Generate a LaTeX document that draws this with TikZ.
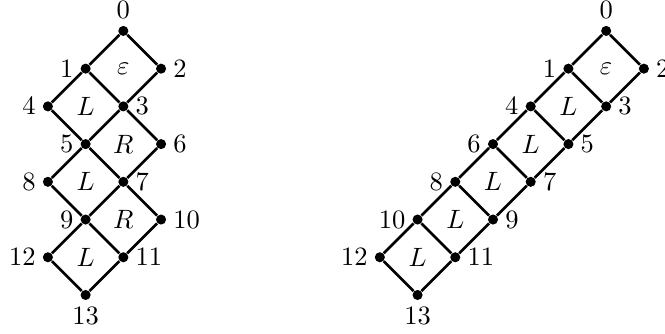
\documentclass[tikz,border=0pt]{standalone}
\usetikzlibrary{positioning}
\tikzset{
  vtx/.style={circle, fill=black, inner sep=0pt, minimum size=3.8pt},
  edge/.style={line width=1pt},
}
\begin{document}
\begin{tikzpicture}[x=0.5cm, y=0.5cm, label distance=-1pt]
		\useasboundingbox (-3.27, -8.01) rectangle (14.36, 0.82);
		
		%%%%% LEFT %%%%%
		\foreach \n/\x/\y/\p in {0/0/0/above, 1/-1/-1/left, 2/1/-1/right, 3/0/-2/right,
				4/-2/-2/left, 5/-1/-3/left, 6/1/-3/right, 7/0/-4/right, 8/-2/-4/left,
				9/-1/-5/left, 10/1/-5/right, 11/0/-6/right, 12/-2/-6/left, 13/-1/-7/below}
			\node[vtx, label=\p:$\n$] (a\n) at (\x, \y) {};
		\foreach \u/\v in {0/1, 0/2, 1/3, 2/3, 1/4, 4/5, 3/5, 3/6, 5/7, 6/7, 5/8, 8/9,
				7/9, 7/10, 9/11, 10/11, 9/12, 12/13, 11/13}
			\draw[edge] (a\u) -- (a\v);
		\node (aface0) at (0, -1) {$\varepsilon$};
		\node (aface1) at (-1, -2) {$L$};
		\node (aface2) at (0, -3) {$R$};
		\node (aface3) at (-1, -4) {$L$};
		\node (aface4) at (0, -5) {$R$};
		\node (aface5) at (-1, -6) {$L$};
		
		%%%%% RIGHT %%%%%
		\begin{scope}[xshift=6.4cm]
			\foreach \n/\x/\y/\p in {0/0/0/above, 1/-1/-1/left, 2/1/-1/right, 3/0/-2/right,
					4/-2/-2/left, 5/-1/-3/right, 6/-3/-3/left, 7/-2/-4/right, 8/-4/-4/left,
					9/-3/-5/right, 10/-5/-5/left, 11/-4/-6/right, 12/-6/-6/left, 13/-5/-7/below}
				\node[vtx, label=\p:$\n$] (b\n) at (\x, \y) {};
			\foreach \u/\v in {0/1, 0/2, 1/3, 2/3, 1/4, 3/5, 4/5, 4/6, 5/7, 6/7, 6/8, 7/9,
					8/9, 8/10, 9/11, 10/11, 10/12, 12/13, 11/13}
				\draw[edge] (b\u) -- (b\v);
			\node (bface0) at (0, -1) {$\varepsilon$};
			\foreach \i in {1,...,5}
				\node (bface\i) at (-\i, -\i-1) {$L$};
		\end{scope}
		
\end{tikzpicture}
\end{document}
